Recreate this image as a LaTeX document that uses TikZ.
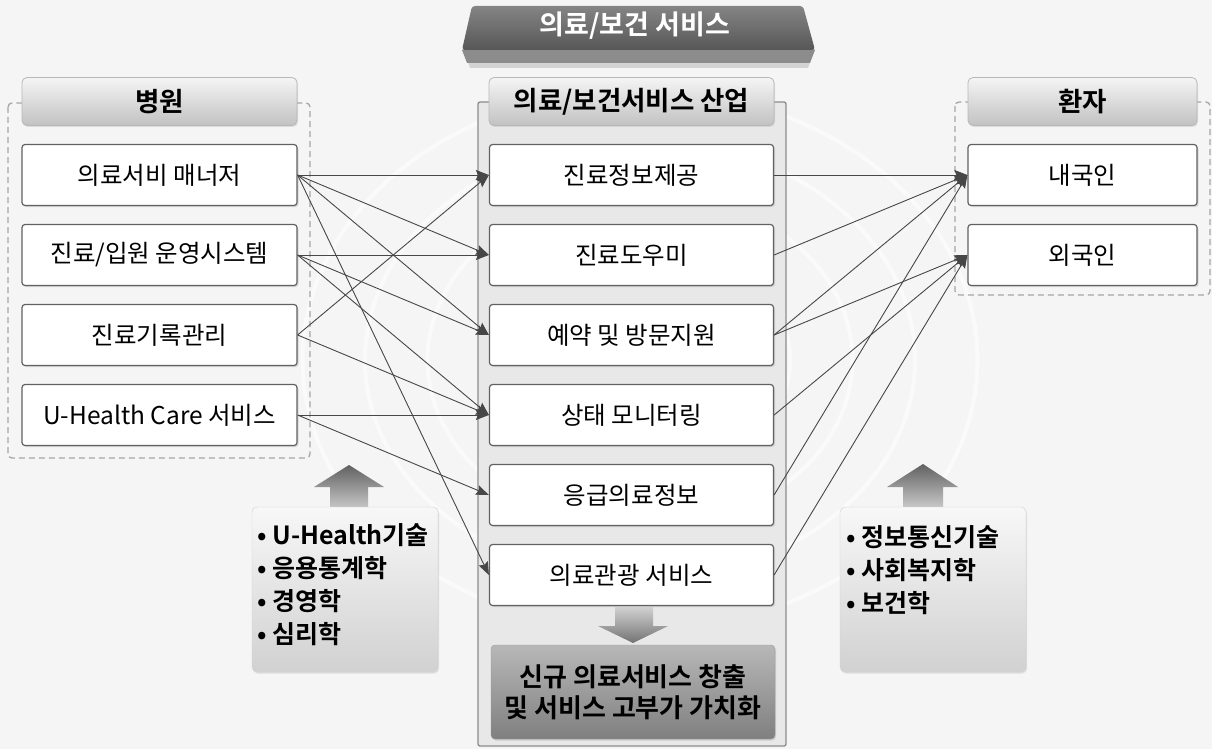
\documentclass[tikz,border=0pt]{standalone}
\usepackage{fontspec}
\setmainfont{Noto Sans CJK KR}[BoldFont={Noto Sans CJK KR Bold}]
\usetikzlibrary{arrows.meta,shadows}

\begin{document}
\begin{tikzpicture}[x=1pt, y=-1pt,
    box/.style={draw=black!62, line width=1.2pt, fill=white, rounded corners=3pt, minimum height=61pt, inner sep=0pt, font=\fontsize{24.5}{28}\selectfont, drop shadow={shadow xshift=1.5pt, shadow yshift=-1.5pt, opacity=0.25}},
    lbox/.style={box, minimum width=275pt},
    mbox/.style={box, minimum width=284pt},
    rbox/.style={box, minimum width=229pt},
    head/.style={draw=black!28, line width=0.8pt, rounded corners=5pt, top color=black!4, bottom color=black!24, minimum height=48pt, inner sep=0pt, font=\fontsize{26.5}{30}\selectfont\bfseries, drop shadow={shadow xshift=1pt, shadow yshift=-1.5pt, opacity=0.2}},
    note/.style={draw=black!18, rounded corners=5pt, top color=black!3, bottom color=black!18, minimum width=186pt, minimum height=165pt, inner sep=0pt, drop shadow={shadow xshift=1pt, shadow yshift=-1.5pt, opacity=0.2}},
    notetext/.style={align=left, inner sep=0pt, font=\fontsize{25}{33}\selectfont\bfseries},
    result/.style={draw=black!40, rounded corners=4pt, top color=black!28, bottom color=black!50, minimum width=284pt, minimum height=94pt, inner sep=0pt, align=center, font=\fontsize{26}{31}\selectfont\bfseries, drop shadow={shadow xshift=1pt, shadow yshift=-1.5pt, opacity=0.25}},
    group/.style={draw=black!35, line width=1.3pt, dash pattern=on 6pt off 4pt, rounded corners=4pt},
    fat/.style={draw=none, top color=black!62, bottom color=black!22},
    link/.style={draw=black!72, line width=0.9pt, -{Stealth[length=13pt, width=10pt, inset=2pt]}}
]
    \useasboundingbox (0,0) rectangle (1212,749);
    % Background
    \fill[black!4] (0,0) rectangle (1212,749);
    \foreach \r in {70,120,170,220,270}
        \draw[white, line width=4pt, opacity=0.55] (640,360) ellipse ({\r*1.25} and \r);

    % Banner
    \fill[black!30, opacity=0.5] (466,56) -- (812,56) -- (808,68) -- (470,68) -- cycle;
    \fill[black!45] (462,50) -- (815,50) -- (810,63) -- (467,63) -- cycle;
    \draw[black!25, line width=1pt] (462,50) -- (815,50);
    \shade[top color=black!48, bottom color=black!66, rounded corners=3pt] (472,6) -- (803,6) -- (815,50) -- (462,50) -- cycle;
    \node[white, font=\fontsize{27}{30}\selectfont\bfseries] (banner) at (635,26) {의료/보건 서비스};

    % Middle panel and dashed groups
    \draw[fill=black!9, draw=black!45, line width=1.3pt, rounded corners=2pt] (478,102) rectangle (786,746);
    \draw[group] (8,103) rectangle (310,458);
    \draw[group] (955,102) rectangle (1210,295);

    % Headers
    \node[head, minimum width=275pt] (hosp) at (159.5,101.5) {병원};
    \node[head, minimum width=285pt] (ind) at (631.5,101.5) {의료/보건서비스 산업};
    \node[head, minimum width=229pt] (pat) at (1082.5,101.5) {환자};

    % Hospital
    \node[lbox] (mgr) at (159.5,175) {의료서비 매너저};
    \node[lbox] (adm) at (159.5,255) {진료/입원 운영시스템};
    \node[lbox] (rec) at (159.5,335) {진료기록관리};
    \node[lbox] (uhc) at (159.5,415) {U-Health Care 서비스};

    % Industry
    \node[mbox] (info) at (631.5,175) {진료정보제공};
    \node[mbox] (help) at (631.5,255) {진료도우미};
    \node[mbox] (resv) at (631.5,335) {예약 및 방문지원};
    \node[mbox] (mon) at (631.5,415) {상태 모니터링};
    \node[mbox] (emer) at (631.5,495) {응급의료정보};
    \node[mbox] (tour) at (631.5,575) {의료관광 서비스};

    % Patients
    \node[rbox] (dom) at (1082.5,175) {내국인};
    \node[rbox] (frn) at (1082.5,255) {외국인};

    % Hospital to industry
    \draw[link] (mgr.east) -- (info.west);
    \draw[link] (mgr.east) -- (help.west);
    \draw[link] (mgr.east) -- (resv.west);
    \draw[link] (mgr.east) -- (tour.west);
    \draw[link] (adm.east) -- (help.west);
    \draw[link] (adm.east) -- (resv.west);
    \draw[link] (adm.east) -- (mon.west);
    \draw[link] (rec.east) -- (info.west);
    \draw[link] (rec.east) -- (mon.west);
    \draw[link] (uhc.east) -- (mon.west);
    \draw[link] (uhc.east) -- (emer.west);

    % Industry to patients
    \draw[link] (info.east) -- (dom.west);
    \draw[link] (help.east) -- (dom.west);
    \draw[link] (resv.east) -- (dom.west);
    \draw[link] (resv.east) -- (frn.west);
    \draw[link] (mon.east) -- (frn.west);
    \draw[link] (emer.east) -- (dom.west);
    \draw[link] (tour.east) -- (frn.west);

    % Result
    \shade[top color=black!18, bottom color=black!55] (615,607) -- (653,607) -- (653,626) -- (668,626) -- (633,643) -- (598,626) -- (615,626) -- cycle;
    \node[result] (new) at (633,692) {신규 의료서비스 창출\\및 서비스 고부가 가치화};

    % Fields
    \shade[fat] (349,465) -- (384,487) -- (368,487) -- (368,508) -- (330,508) -- (330,487) -- (314,487) -- cycle;
    \node[note] (lnote) at (345,589.5) {};
    \node[notetext, anchor=west] (ltext) at (257,585) {• U-Health기술\\• 응용통계학\\• 경영학\\• 심리학};
    \shade[fat] (923,464) -- (958,487) -- (943,487) -- (943,507) -- (903,507) -- (903,487) -- (887,487) -- cycle;
    \node[note] (rnote) at (933,589.5) {};
    \node[notetext, anchor=west] (rtext) at (846,570) {• 정보통신기술\\• 사회복지학\\• 보건학};
\end{tikzpicture}
\end{document}
